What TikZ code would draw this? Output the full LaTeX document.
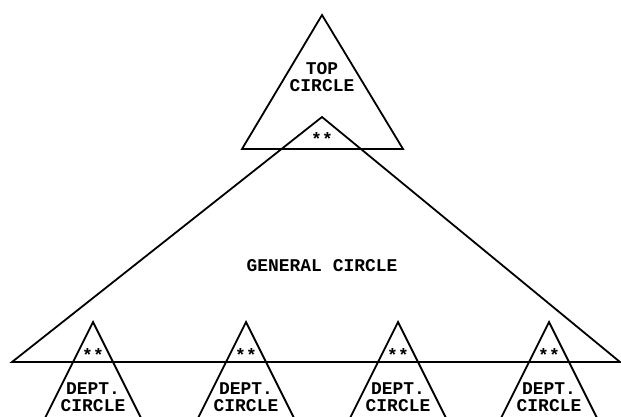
\documentclass[tikz,border=0pt]{standalone}
\usepackage{fontspec}
\setmonofont{Liberation Mono}
\usetikzlibrary{positioning,calc}

\begin{document}
\begin{tikzpicture}[x=1bp,y=-1bp,line join=miter,
  tri/.style={draw,line width=1.8bp},
  lbl/.style={font=\fontsize{18}{17}\ttfamily\bfseries,align=center,inner sep=0pt},
  starmark/.style={lbl}]
\useasboundingbox (0,0) rectangle (621,416);
\clip (0,0) rectangle (621,416);
% top circle
\coordinate (tA) at (322,15);
\coordinate (tL) at (242,149);
\coordinate (tR) at (403,149);
\draw[tri] (tA) -- (tL) -- (tR) -- cycle;
\node[lbl] (top) at (322,77) {TOP\\CIRCLE};
% general circle
\coordinate (gA) at (322,117);
\coordinate (gL) at (12,362);
\coordinate (gR) at (620,362);
\draw[tri] (gA) -- (gL) -- (gR) -- cycle;
\node[lbl] (gen) at (322,266) {GENERAL CIRCLE};
\node[starmark] (gs) at (322,139) {**};
% department circles
\foreach \i/\x in {1/93,2/246,3/398,4/549}{
  \coordinate (d\i) at (\x,322);
  \draw[tri] ($(d\i)+(-56,112)$) -- (d\i) -- ($(d\i)+(56,112)$);
  \node[starmark] (ds\i) at ($(d\i)+(0,33)$) {**};
  \node[lbl] (dt\i) at ($(d\i)+(0,75)$) {DEPT.\\CIRCLE};
}
\end{tikzpicture}
\end{document}
